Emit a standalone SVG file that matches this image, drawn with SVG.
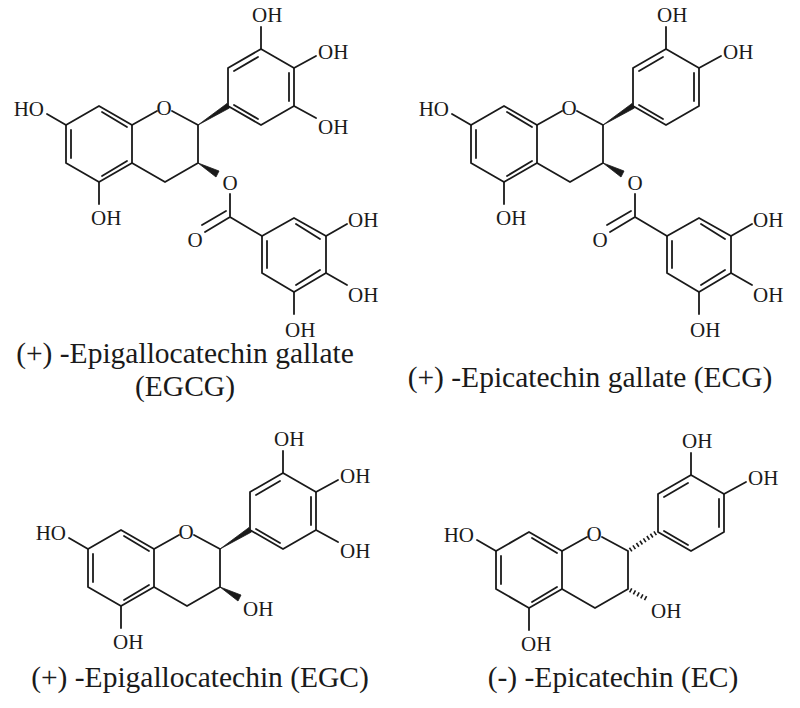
<svg xmlns="http://www.w3.org/2000/svg" xmlns:xlink="http://www.w3.org/1999/xlink" width="800" height="708" viewBox="0 0 800 708">
<style>
.b{fill:none;stroke:#1a1a1a;stroke-width:1.8;stroke-linecap:round;stroke-linejoin:round}
.w{fill:#1a1a1a;stroke:#1a1a1a;stroke-width:0.8}
.h{fill:none;stroke:#1a1a1a;stroke-width:4.5;stroke-dasharray:1.6 2.6}
.a{font-family:"Liberation Serif","Times New Roman",serif;font-size:21px;fill:#1a1a1a}
.t{font-family:"Liberation Serif","Times New Roman",serif;font-size:29.5px;fill:#1a1a1a;text-anchor:middle}
</style>
<defs>
<g id="core">
<path class="b" d="M99,106 L132,125 L132,163 L99,182 L66,163 L66,125 Z M71,130 L71,158 M102,112 L127,127 M127,161 L102,176"/>
<path class="b" d="M66,125 L47,114 M99,182 L99,204 M132,125 L157,111 M172,111 L198,125 L198,163 L165,182 L132,163"/>
<text class="a" x="44" y="116" text-anchor="end">HO</text>
<text class="a" x="91" y="225">OH</text>
<text class="a" x="164" y="115" text-anchor="middle">O</text>
</g>
<g id="ringB">
<path class="b" d="M228,106 L228,68 L261,49 L294,68 L294,106 L261,125 Z M234,71 L258,57 M289,73 L289,101 M258,119 L234,105"/>
<path class="b" d="M261,49 L261,27 M294,68 L316,56"/>
<text class="a" x="252" y="22">OH</text>
<text class="a" x="318" y="59">OH</text>
</g>
<g id="oh5p">
<path class="b" d="M294,106 L316,118"/>
<text class="a" x="318" y="134">OH</text>
</g>
<g id="gallate">
<polygon class="w" points="198,163 216,177 219,171"/>
<path class="b" d="M230,194 L230,217 L262,236 M230,217 L205,232 M226,211 L202,225"/>
<text class="a" x="230" y="190" text-anchor="middle">O</text>
<text class="a" x="195" y="247" text-anchor="middle">O</text>
<path class="b" d="M262,236 L294,218 L326,236 L326,273 L294,292 L262,273 Z M267,241 L267,268 M296,224 L320,239 M320,270 L296,285"/>
<path class="b" d="M326,236 L347,224 M326,273 L347,285 M294,292 L294,314"/>
<text class="a" x="348" y="227">OH</text>
<text class="a" x="348" y="302">OH</text>
<text class="a" x="285" y="337">OH</text>
</g>
</defs>
<g id="EGCG">
<use xlink:href="#core"/>
<polygon class="w" points="198,125 227,103.5 229.5,108"/>
<use xlink:href="#ringB"/>
<use xlink:href="#oh5p"/>
<use xlink:href="#gallate"/>
<text class="t" x="185" y="363">(+) -Epigallocatechin gallate</text>
<text class="t" x="185" y="396">(EGCG)</text>
</g>
<g id="ECG">
<g transform="translate(405,0)">
<use xlink:href="#core"/>
<polygon class="w" points="198,125 227,103.5 229.5,108"/>
<use xlink:href="#ringB"/>
<use xlink:href="#gallate"/>
</g>
<text class="t" x="590" y="387">(+) -Epicatechin gallate (ECG)</text>
</g>
<g id="EGC">
<g transform="translate(22,424)">
<use xlink:href="#core"/>
<polygon class="w" points="198,125 227,103.5 229.5,108"/>
<use xlink:href="#ringB"/>
<use xlink:href="#oh5p"/>
<polygon class="w" points="198,163 216,177 219,171"/>
<text class="a" x="221" y="192">OH</text>
</g>
<text class="t" x="200" y="687">(+) -Epigallocatechin (EGC)</text>
</g>
<g id="EC">
<g transform="translate(430,426)">
<use xlink:href="#core"/>
<line class="h" x1="200" y1="124" x2="227" y2="106"/>
<use xlink:href="#ringB"/>
<line class="h" x1="200" y1="164" x2="217" y2="173"/>
<text class="a" x="221" y="192">OH</text>
</g>
<text class="t" x="613" y="687">(-) -Epicatechin (EC)</text>
</g>
<g id="connectors"/>
</svg>
